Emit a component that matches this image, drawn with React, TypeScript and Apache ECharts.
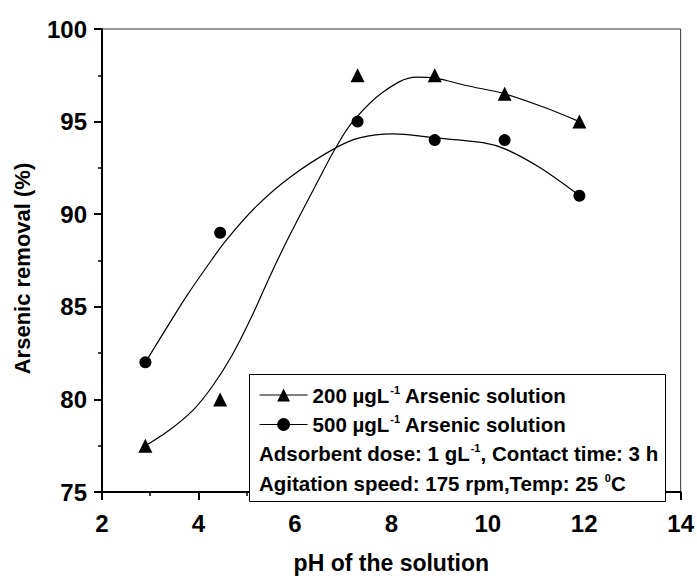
import React, { useEffect, useRef } from "react";
import * as echarts from "echarts";

// Measured points (pH, removal %)
const phValues = [2.9, 4.45, 7.3, 8.9, 10.35, 11.9];
const removal200 = [77.5, 80.0, 97.5, 97.5, 96.5, 95.0];
const removal500 = [82.0, 89.0, 95.0, 94.0, 94.0, 91.0];

// Smoothed fit curves drawn through the data
const fit200X = [2.9, 3.4, 3.9, 4.3, 4.7, 5.1, 5.5, 5.9, 6.5, 6.85, 7.2, 7.83, 8.52, 8.9, 9.55, 10.35, 11.14, 11.9];
const fit200Y = [77.5, 78.35, 79.45, 80.75, 82.4, 84.45, 86.75, 88.9, 91.9, 93.6, 95.0, 96.6, 97.4, 97.35, 96.95, 96.5, 95.8, 95.0];
const fit500X = [2.9, 3.34, 3.76, 4.17, 4.59, 5.21, 5.9, 6.79, 7.34, 8.03, 8.9, 9.9, 10.38, 11.07, 11.9];
const fit500Y = [82.0, 83.86, 85.6, 87.15, 88.64, 90.45, 92.0, 93.5, 94.12, 94.34, 94.12, 93.86, 93.5, 92.53, 91.0];

const xTicks = { min: 2, max: 14, interval: 2 };
const yTicks = { min: 75, max: 100, interval: 5 };

const FONT = "'Liberation Sans', Arial, sans-serif";

const pairs = (xs: number[], ys: number[]) => xs.map((x, i) => [x, ys[i]]);

const richStyles = {
  t: { fontSize: 20.5, fontWeight: "bold", fontFamily: FONT, color: "#000", lineHeight: 22 },
  s: { fontSize: 11, fontWeight: "bold", fontFamily: FONT, color: "#000", verticalAlign: "top", lineHeight: 22, padding: [0, 0, 0, 1] },
};

const legendLabels: Record<string, string> = {
  "200": "{t|200 µgL}{s|-1}{t| Arsenic solution}",
  "500": "{t|500 µgL}{s|-1}{t| Arsenic solution}",
};

export default function App() {
  const ref = useRef<HTMLDivElement>(null);

  useEffect(() => {
    if (!ref.current) return;
    const chart = echarts.init(ref.current, undefined, { renderer: "svg" });
    const black = "#000";
    chart.setOption({
      animation: false,
      backgroundColor: "#fff",
      grid: {
        left: 102,
        right: 14,
        top: 29,
        bottom: 78,
        show: true,
        borderColor: "#333",
        borderWidth: 1,
      },
      xAxis: {
        type: "value",
        ...xTicks,
        name: "pH of the solution",
        nameLocation: "middle",
        nameGap: 59,
        nameTextStyle: { fontSize: 23, fontWeight: "bold", fontFamily: FONT, color: black },
        axisLine: { lineStyle: { color: black, width: 2 } },
        axisTick: { length: 8, lineStyle: { color: black, width: 2 } },
        minorTick: { show: true, splitNumber: 2, length: 4, lineStyle: { color: black, width: 1.5 } },
        splitLine: { show: false },
        axisLabel: { fontSize: 24, fontWeight: "bold", fontFamily: FONT, color: black, margin: 19 },
      },
      yAxis: {
        type: "value",
        ...yTicks,
        name: "Arsenic removal (%)",
        nameLocation: "middle",
        nameGap: 69,
        nameTextStyle: { fontSize: 22, fontWeight: "bold", fontFamily: FONT, color: black, padding: [0, 16, 0, 0] },
        axisLine: { show: true, lineStyle: { color: black, width: 2 } },
        axisTick: { show: true, length: 8, lineStyle: { color: black, width: 2 } },
        minorTick: { show: true, splitNumber: 2, length: 4, lineStyle: { color: black, width: 1.5 } },
        splitLine: { show: false },
        axisLabel: { fontSize: 24, fontWeight: "bold", fontFamily: FONT, color: black, margin: 15 },
      },
      legend: {
        orient: "vertical",
        left: 259,
        top: 384,
        padding: 0,
        itemWidth: 48,
        itemHeight: 16,
        itemGap: 8,
        data: [
          { name: "200", lineStyle: { opacity: 1, width: 1.2, color: black } },
          { name: "500", lineStyle: { opacity: 1, width: 1.2, color: black } },
        ],
        formatter: (name: string) => legendLabels[name],
        textStyle: { rich: richStyles },
      },
      graphic: [
        {
          type: "rect",
          shape: { x: 249.5, y: 374.5, width: 416, height: 127 },
          style: { fill: "#fff", stroke: black, lineWidth: 1 },
          z: 1,
        },
        {
          type: "text",
          x: 259,
          y: 453,
          z: 5,
          style: {
            text: "{t|Adsorbent dose: 1 gL}{s|-1}{t|, Contact time: 3 h}",
            rich: richStyles,
            verticalAlign: "middle",
          },
        },
        {
          type: "text",
          x: 259,
          y: 483,
          z: 5,
          style: {
            text: "{t|Agitation speed: 175 rpm,Temp: 25 }{s|0}{t|C}",
            rich: richStyles,
            verticalAlign: "middle",
          },
        },
      ],
      series: [
        {
          name: "fit200",
          type: "line",
          data: pairs(fit200X, fit200Y),
          smooth: 0.35,
          symbol: "none",
          lineStyle: { color: black, width: 1.2 },
          silent: true,
          z: 3,
        },
        {
          name: "fit500",
          type: "line",
          data: pairs(fit500X, fit500Y),
          smooth: 0.35,
          symbol: "none",
          lineStyle: { color: black, width: 1.2 },
          silent: true,
          z: 3,
        },
        {
          name: "200",
          type: "line",
          data: pairs(phValues, removal200),
          symbol: "triangle",
          symbolSize: 14,
          itemStyle: { color: black },
          lineStyle: { opacity: 0, width: 0 },
          z: 4,
        },
        {
          name: "500",
          type: "line",
          data: pairs(phValues, removal500),
          symbol: "circle",
          symbolSize: 12,
          itemStyle: { color: black },
          lineStyle: { opacity: 0, width: 0 },
          z: 4,
        },
      ],
    });
    return () => chart.dispose();
  }, []);

  return (
    <div
      ref={ref}
      style={{ position: "fixed", left: 0, top: 0, width: 697, height: 579, background: "#fff" }}
    />
  );
}
